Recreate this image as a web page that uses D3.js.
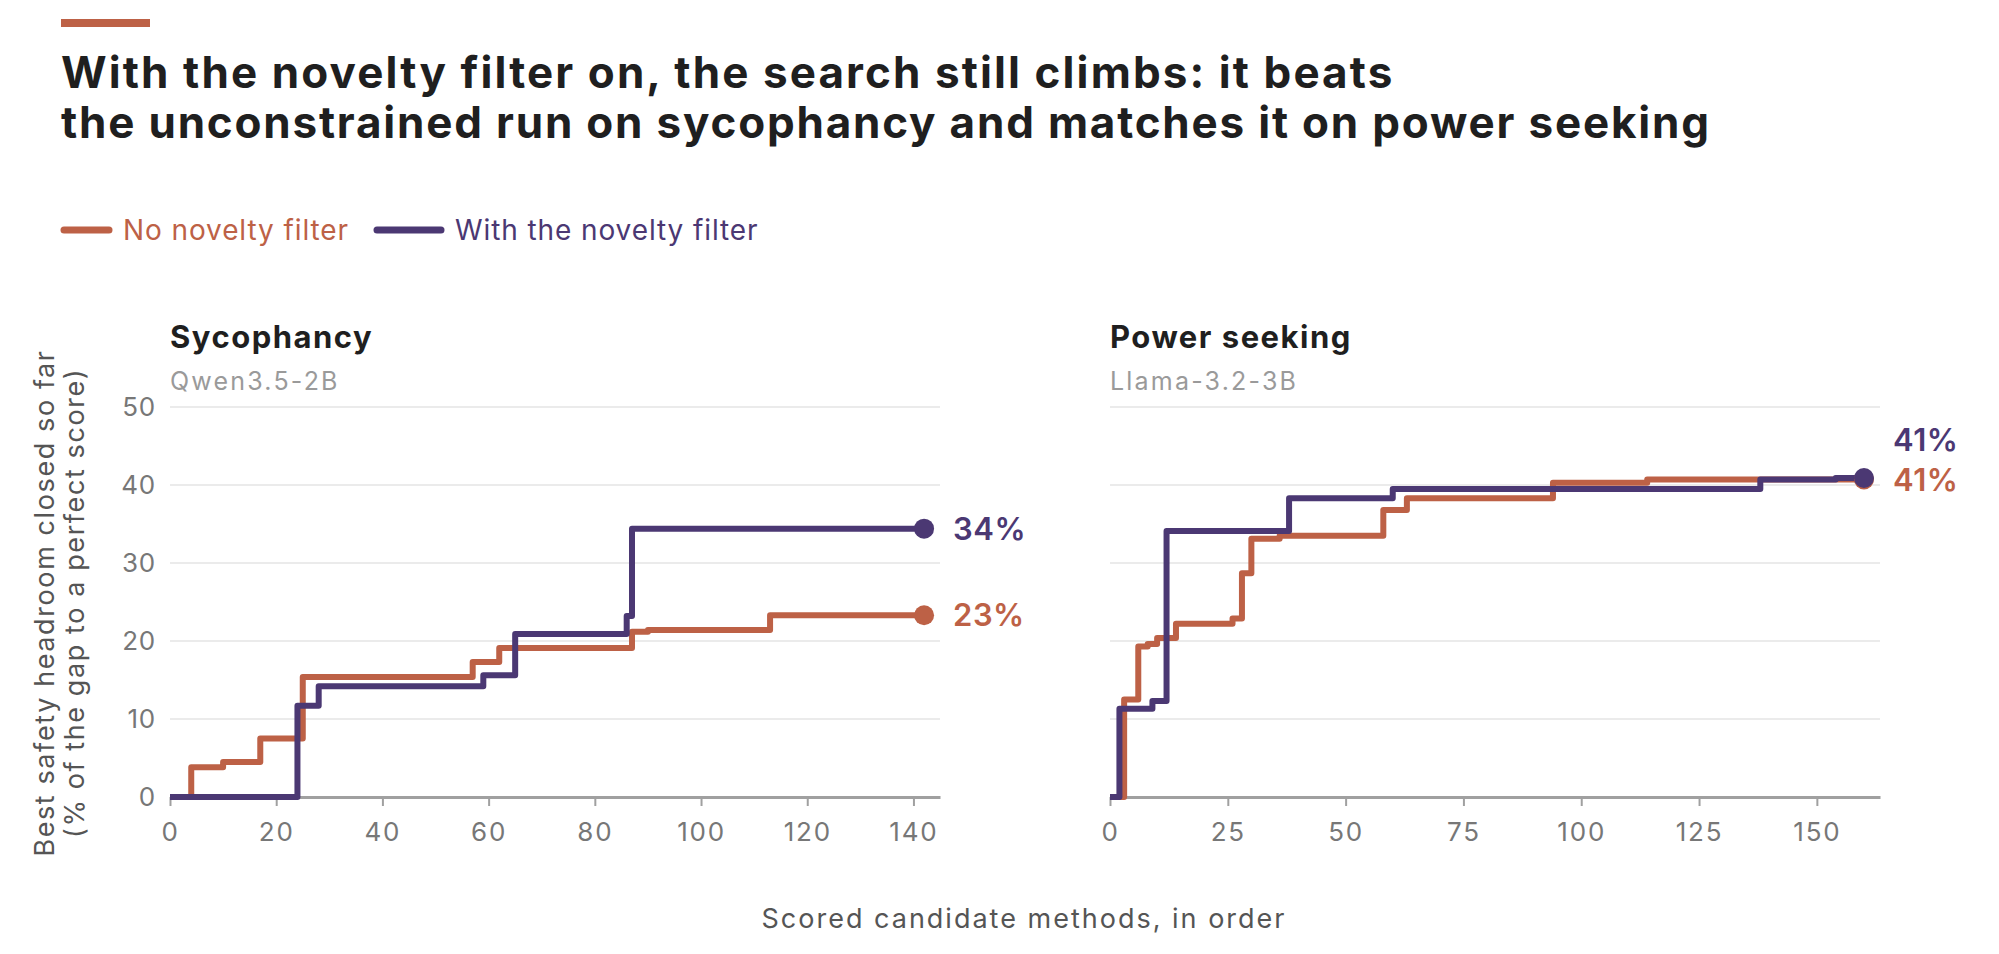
<!DOCTYPE html>
<html>
<head>
<meta charset="utf-8">
<script src="https://cdn.jsdelivr.net/npm/d3@7"></script>
<style>
  body { margin: 0; background: #fff; }
  svg { display: block; font-family: "Inter", "Noto Sans", sans-serif; }
</style>
</head>
<body>
<div id="chart"></div>
<script>
// --- data ---
var seriesNames = ["No novelty filter", "With the novelty filter"];
var seriesColors = ["#bd6146", "#4b3873"];

var panelTitles = ["Sycophancy", "Power seeking"];
var panelModels = ["Qwen3.5-2B", "Llama-3.2-3B"];

// sycophancy, no novelty filter: step points
var sycoNoFilterX = [0, 4, 10, 17, 25, 57, 62, 87, 90, 113, 142];
var sycoNoFilterY = [0, 3.8, 4.5, 7.5, 15.4, 17.3, 19.1, 21.2, 21.4, 23.3, 23.3];
// sycophancy, with the novelty filter
var sycoFilterX = [0, 24, 28, 59, 65, 86, 87, 142];
var sycoFilterY = [0, 11.7, 14.2, 15.6, 20.9, 23.2, 34.4, 34.4];

// power seeking, no novelty filter
var powerNoFilterX = [0, 3, 6, 8, 10, 14, 26, 28, 30, 36, 58, 63, 94, 114, 160];
var powerNoFilterY = [0, 12.5, 19.3, 19.6, 20.4, 22.2, 22.9, 28.7, 33.1, 33.5, 36.8, 38.3, 40.3, 40.7, 40.7];
// power seeking, with the novelty filter
var powerFilterX = [0, 2, 9, 12, 38, 60, 138, 154, 160];
var powerFilterY = [0, 11.3, 12.3, 34.1, 38.3, 39.5, 40.7, 40.9, 40.9];

var sycoXTicks = [0, 20, 40, 60, 80, 100, 120, 140];
var powerXTicks = [0, 25, 50, 75, 100, 125, 150];
var yTicks = [0, 10, 20, 30, 40, 50];
var xMax = [145, 163.4];
var endLabels = [["23%", "34%"], ["41%", "41%"]];

function zip(xs, ys) {
    return xs.map(function (x, i) { return { x: x, y: ys[i] }; });
}

var panels = [
    { series: [zip(sycoNoFilterX, sycoNoFilterY), zip(sycoFilterX, sycoFilterY)], ticks: sycoXTicks, left: 170 },
    { series: [zip(powerNoFilterX, powerNoFilterY), zip(powerFilterX, powerFilterY)], ticks: powerXTicks, left: 1110 }
];

var width = 1999, height = 954;
var plotW = 770;
var plotTop = 407, plotBottom = 797;

var svg = d3.select("#chart").append("svg")
    .attr("width", width)
    .attr("height", height);

// accent bar + title
svg.append("rect")
    .attr("x", 61).attr("y", 19)
    .attr("width", 89).attr("height", 8)
    .attr("fill", seriesColors[0]);

var title = svg.append("text")
    .attr("x", 61).attr("y", 88)
    .attr("font-size", "44px")
    .attr("font-weight", 700)
    .attr("letter-spacing", "1.8px")
    .attr("fill", "#1f1f1f");
title.append("tspan").attr("x", 61).attr("letter-spacing", "2.1px")
    .text("With the novelty filter on, the search still climbs: it beats");
title.append("tspan").attr("x", 61).attr("dy", 50)
    .text("the unconstrained run on sycophancy and matches it on power seeking");

// legend
var legendLine = [[61, 112], [374, 444]];
var legendText = [123, 455];
seriesNames.forEach(function (name, i) {
    var g = svg.append("g").attr("transform", "translate(0,230)");
    g.append("line")
        .attr("x1", legendLine[i][0] + 3).attr("x2", legendLine[i][1] - 3)
        .attr("stroke", seriesColors[i])
        .attr("stroke-width", 7)
        .attr("stroke-linecap", "round");
    g.append("text")
        .attr("x", legendText[i])
        .attr("y", 10)
        .attr("font-size", "28px")
        .attr("letter-spacing", "0.9px")
        .attr("fill", seriesColors[i])
        .text(name);
});

var y = d3.scaleLinear().domain([0, 50]).range([plotBottom, plotTop]);

panels.forEach(function (p, pi) {
    var x = d3.scaleLinear().domain([0, xMax[pi]]).range([0, plotW]);
    var g = svg.append("g").attr("transform", "translate(" + p.left + ",0)");

    g.append("text")
        .attr("x", 0).attr("y", 348)
        .attr("font-size", "31px")
        .attr("font-weight", 700)
        .attr("letter-spacing", "1.5px")
        .attr("fill", "#1f1f1f")
        .text(panelTitles[pi]);
    g.append("text")
        .attr("x", 0).attr("y", 390)
        .attr("font-size", "25px")
        .attr("letter-spacing", "2.2px")
        .attr("fill", "#9a9a9a")
        .text(panelModels[pi]);

    // gridlines
    g.append("g")
        .selectAll("line")
        .data(yTicks.slice(1))
        .join("line")
        .attr("x1", 0).attr("x2", plotW)
        .attr("y1", function (d) { return y(d); })
        .attr("y2", function (d) { return y(d); })
        .attr("stroke", "#ebebeb")
        .attr("stroke-width", 2);

    // y tick labels only on the first panel
    if (pi === 0) {
        var yAxis = g.append("g")
            .call(d3.axisLeft(y).tickValues(yTicks).tickSize(0).tickPadding(14));
        yAxis.select(".domain").remove();
        yAxis.selectAll("text")
            .attr("font-size", "26px")
            .attr("font-family", "Inter, sans-serif")
            .attr("letter-spacing", "0.8px")
            .attr("fill", "#777");
    }

    // x axis
    var xAxis = g.append("g")
        .attr("transform", "translate(0," + plotBottom + ")")
        .call(d3.axisBottom(x).tickValues(p.ticks).tickSize(9).tickSizeOuter(0).tickPadding(17));
    xAxis.select(".domain").attr("stroke", "#a0a0a0").attr("stroke-width", 3);
    xAxis.selectAll(".tick line").attr("stroke", "#a0a0a0").attr("stroke-width", 2);
    xAxis.selectAll("text")
        .attr("font-size", "26px")
        .attr("font-family", "Inter, sans-serif")
        .attr("letter-spacing", "1.8px")
        .attr("fill", "#777");

    var line = d3.line()
        .x(function (d) { return x(d.x); })
        .y(function (d) { return y(d.y); })
        .curve(d3.curveStepAfter);

    p.series.forEach(function (s, si) {
        g.append("path")
            .datum(s)
            .attr("d", line)
            .attr("fill", "none")
            .attr("stroke", seriesColors[si])
            .attr("stroke-width", 6)
            .attr("stroke-linejoin", "round");
    });

    p.series.forEach(function (s, si) {
        var last = s[s.length - 1];
        g.append("circle")
            .attr("cx", x(last.x))
            .attr("cy", y(last.y))
            .attr("r", 10)
            .attr("fill", seriesColors[si]);
    });

    // end labels
    p.series.forEach(function (s, si) {
        var last = s[s.length - 1];
        var ly = y(last.y);
        if (pi === 1) ly = y(last.y) + (si === 0 ? 0 : -38);
        g.append("text")
            .attr("x", x(last.x) + 29)
            .attr("y", ly)
            .attr("dy", "0.36em")
            .attr("font-size", "31px")
            .attr("font-weight", 600)
            .attr("letter-spacing", "0.5px")
            .attr("fill", seriesColors[si])
            .text(endLabels[pi][si]);
    });
});

// axis titles
var yTitle = svg.append("text")
    .attr("transform", "translate(45,603) rotate(-90)")
    .attr("text-anchor", "middle")
    .attr("font-size", "27px")
    .attr("letter-spacing", "1.6px")
    .attr("fill", "#555");
yTitle.append("tspan").attr("x", 0).attr("dy", "0.35em").text("Best safety headroom closed so far");
yTitle.append("tspan").attr("x", 0).attr("dy", 30).text("(% of the gap to a perfect score)");

svg.append("text")
    .attr("x", 1024).attr("y", 928)
    .attr("text-anchor", "middle")
    .attr("font-size", "27px")
    .attr("letter-spacing", "2px")
    .attr("fill", "#555")
    .text("Scored candidate methods, in order");
</script>
</body>
</html>
